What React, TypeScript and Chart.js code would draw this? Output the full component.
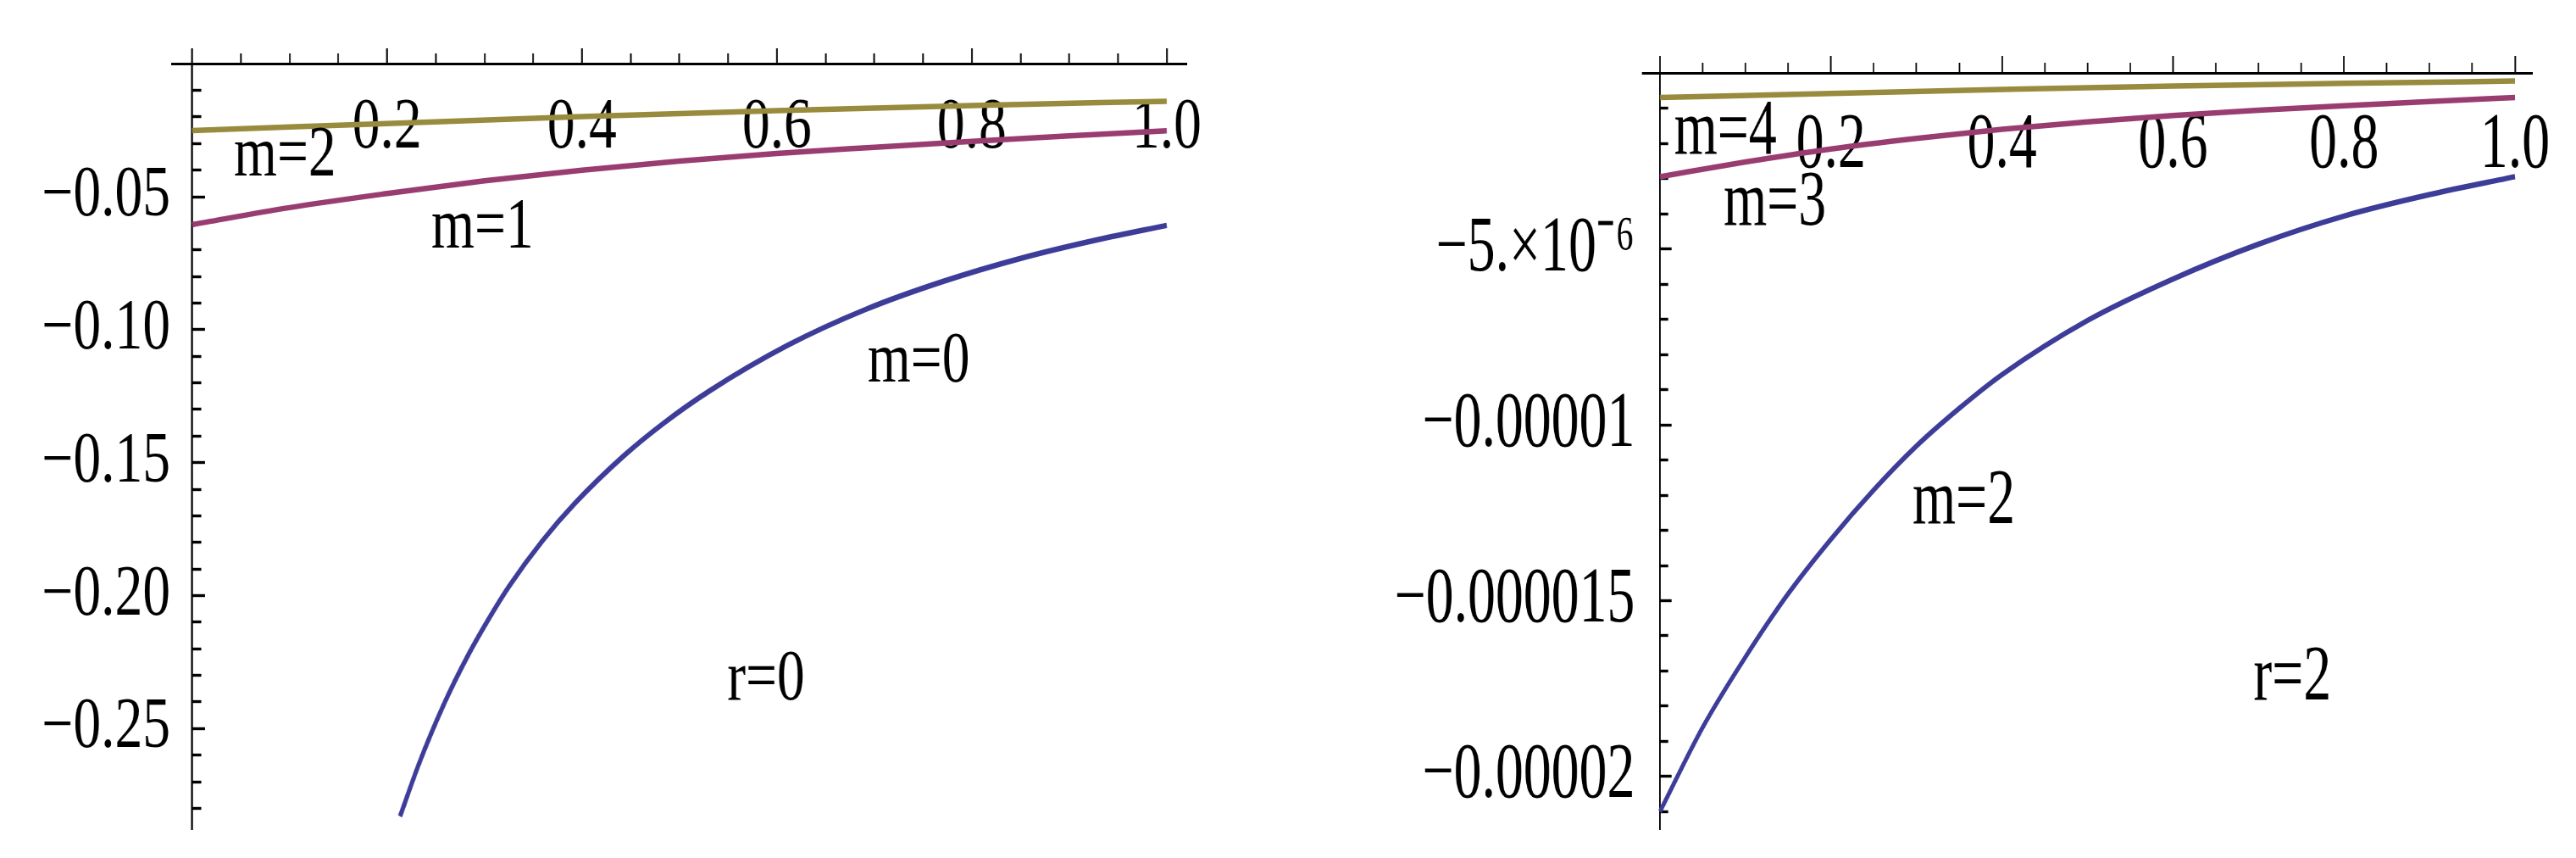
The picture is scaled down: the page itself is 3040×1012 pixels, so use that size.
import React, { useEffect, useRef } from 'react';
import { Chart, registerables } from 'chart.js';

Chart.register(...registerables);

// ---------------- data: left panel (r = 0) ----------------
const L_M0_X = [0.2133, 0.233, 0.258, 0.283, 0.309, 0.325, 0.359, 0.393, 0.443, 0.484, 0.531, 0.611, 0.691, 0.771, 0.851, 0.93, 1.0];
const L_M0_Y = [-0.283, -0.263, -0.2411, -0.2225, -0.2059, -0.1966, -0.1796, -0.1652, -0.1474, -0.1351, -0.123, -0.1059, -0.0924, -0.0818, -0.0731, -0.0661, -0.0608];
const L_M1_X = [0, 0.1, 0.2, 0.3, 0.4, 0.5, 0.6, 0.7, 0.8, 0.9, 1.0];
const L_M1_Y = [-0.0605, -0.0541, -0.0488, -0.044, -0.04, -0.0366, -0.0337, -0.0314, -0.0292, -0.0271, -0.0252];
const L_M2_X = [0, 0.2, 0.4, 0.6, 0.8, 1.0];
const L_M2_Y = [-0.0251, -0.0225, -0.0199, -0.0176, -0.0157, -0.0141];

const L_X_TICKS = [0, 0.2, 0.4, 0.6, 0.8, 1.0];
const L_X_LABELS = ['', '0.2', '0.4', '0.6', '0.8', '1.0'];
const L_Y_TICKS = [-0.05, -0.1, -0.15, -0.2, -0.25];
const L_Y_LABELS = ['\u22120.05', '\u22120.10', '\u22120.15', '\u22120.20', '\u22120.25'];
const L_NOTES = [
  { text: 'm=2', x: 0.0428, y: -0.042 },
  { text: 'm=1', x: 0.2454, y: -0.0691 },
  { text: 'm=0', x: 0.693, y: -0.1195 },
  { text: 'r=0', x: 0.549, y: -0.2391 },
];

// ---------------- data: right panel (r = 2) ----------------
const R_M2_X = [0, 0.05, 0.1, 0.15, 0.2, 0.25, 0.3, 0.35, 0.4, 0.5, 0.6, 0.7, 0.8, 0.9, 1.0];
const R_M2_Y = [-21.0e-6, -18.6e-6, -16.6e-6, -14.8e-6, -13.25e-6, -11.85e-6, -10.6e-6, -9.53e-6, -8.57e-6, -7.03e-6, -5.85e-6, -4.86e-6, -4.06e-6, -3.45e-6, -2.94e-6];
const R_M3_X = [0, 0.1, 0.2, 0.3, 0.4, 0.5, 0.6, 0.7, 0.8, 0.9, 1.0];
const R_M3_Y = [-2.94e-6, -2.52e-6, -2.15e-6, -1.85e-6, -1.59e-6, -1.38e-6, -1.2e-6, -1.05e-6, -0.92e-6, -0.8e-6, -0.69e-6];
const R_M4_X = [0, 0.2, 0.4, 0.6, 0.8, 1.0];
const R_M4_Y = [-0.69e-6, -0.57e-6, -0.46e-6, -0.36e-6, -0.285e-6, -0.22e-6];

const R_X_TICKS = [0, 0.2, 0.4, 0.6, 0.8, 1.0];
const R_X_LABELS = ['', '0.2', '0.4', '0.6', '0.8', '1.0'];
const R_Y_TICKS = [-5e-6, -1e-5, -1.5e-5, -2e-5];
const R_Y_LABELS = ['\u22125.\u00d710\u207b\u2076', '\u22120.00001', '\u22120.000015', '\u22120.00002'];
const R_NOTES = [
  { text: 'm=4', x: 0.0164, y: -2.28e-6 },
  { text: 'm=3', x: 0.0743, y: -4.3e-6 },
  { text: 'm=2', x: 0.2953, y: -1.279e-5 },
  { text: 'r=2', x: 0.694, y: -1.781e-5 },
];

const BLUE = 'rgb(61,61,153)';
const PURPLE = 'rgb(153,61,113)';
const GOLD = 'rgb(153,139,61)';

const H = 1012;

type Series = { xs: number[]; ys: number[]; color: string };
type PanelCfg = {
  left: number; sx: number; canvasW: number;
  plotLeft: number; plotRight: number; plotTop: number; plotBottom: number;
  xMin: number; xMax: number; yMin: number; yMax: number;
  xTicks: number[]; xLabels: string[]; xMinorStep: number;
  yTicks: number[]; yLabels: string[]; yMinorStep: number; yMinorCount: number;
  font: number; xLabelPad: number; yLabelPad: number;
  majorTickX: number; minorTickX: number;
  series: Series[]; notes: { text: string; x: number; y: number }[];
};

const LEFT: PanelCfg = {
  left: 0, sx: 0.78, canvasW: 2000,
  plotLeft: 203.3, plotRight: 1400.3, plotTop: 75.2, plotBottom: 978,
  xMin: -0.0204, xMax: 1.0204, yMin: -0.28784, yMax: 0,
  xTicks: L_X_TICKS, xLabels: L_X_LABELS, xMinorStep: 0.05,
  yTicks: L_Y_TICKS, yLabels: L_Y_LABELS, yMinorStep: 0.01, yMinorCount: 28,
  font: 84, xLabelPad: 55, yLabelPad: 3,
  majorTickX: 20, minorTickX: 12,
  series: [
    { xs: L_M0_X, ys: L_M0_Y, color: BLUE },
    { xs: L_M1_X, ys: L_M1_Y, color: PURPLE },
    { xs: L_M2_X, ys: L_M2_Y, color: GOLD },
  ],
  notes: L_NOTES,
};

const RIGHT: PanelCfg = {
  left: 1540, sx: 0.7, canvasW: 2143,
  plotLeft: 1938.4, plotRight: 2988.6, plotTop: 86.5, plotBottom: 978,
  xMin: -0.0204, xMax: 1.0204, yMin: -2.15e-5, yMax: 0,
  xTicks: R_X_TICKS, xLabels: R_X_LABELS, xMinorStep: 0.05,
  yTicks: R_Y_TICKS, yLabels: R_Y_LABELS, yMinorStep: 1e-6, yMinorCount: 21,
  font: 94, xLabelPad: 61, yLabelPad: 13,
  majorTickX: 22, minorTickX: 13,
  series: [
    { xs: R_M2_X, ys: R_M2_Y, color: BLUE },
    { xs: R_M3_X, ys: R_M3_Y, color: PURPLE },
    { xs: R_M4_X, ys: R_M4_Y, color: GOLD },
  ],
  notes: R_NOTES,
};

const notePlugin = {
  id: 'notes',
  afterDatasetsDraw(chart: any, _args: any, opts: any) {
    const { ctx, scales } = chart;
    const xs = scales.x;
    const ys = scales.y;
    ctx.save();
    ctx.font = `${opts.size}px "Liberation Serif"`;
    ctx.fillStyle = '#000';
    ctx.textAlign = 'left';
    ctx.textBaseline = 'alphabetic';
    (opts.items || []).forEach((it: any) => {
      ctx.fillText(it.text, xs.getPixelForValue(it.x), ys.getPixelForValue(it.y));
    });
    ctx.restore();
  },
};

function minorTicks(step: number, count: number, sign: number, every: number) {
  const out: { value: number }[] = [];
  for (let i = 1; i <= count; i++) {
    if (i % every === 0) continue;
    out.push({ value: sign * i * step });
  }
  return out;
}

function buildConfig(p: PanelCfg): any {
  const toC = (fx: number) => (fx - p.left) / p.sx;
  const padRight = p.canvasW - toC(p.plotRight);
  const labelAxisW = toC(p.plotLeft);
  const tickFont = { family: 'Liberation Serif', size: p.font, lineHeight: 1 };
  const xMinorCount = Math.round(1 / p.xMinorStep);

  return {
    type: 'line',
    data: {
      datasets: p.series.map((s) => ({
        data: s.xs.map((x, i) => ({ x, y: s.ys[i] })),
        borderColor: s.color,
        borderWidth: 6.5,
        pointRadius: 0,
        fill: false,
        cubicInterpolationMode: 'monotone',
        xAxisID: 'x',
        yAxisID: 'y',
      })),
    },
    options: {
      animation: false,
      responsive: false,
      devicePixelRatio: 1,
      events: [],
      layout: { padding: { left: 0, right: padRight, top: p.plotTop, bottom: H - p.plotBottom } },
      plugins: {
        legend: { display: false },
        tooltip: { enabled: false },
        notes: { items: p.notes, size: p.font },
      },
      scales: {
        x: {
          type: 'linear', display: true, position: { y: 0 },
          min: p.xMin, max: p.xMax,
          afterBuildTicks: (a: any) => { a.ticks = p.xTicks.map((v) => ({ value: v })); },
          afterFit: (a: any) => { a.paddingLeft = 0; a.paddingRight = 0; },
          ticks: {
            display: true, autoSkip: false, maxRotation: 0, minRotation: 0,
            padding: p.xLabelPad, color: '#000', font: tickFont,
            callback: (_v: any, i: number) => p.xLabels[i],
          },
          grid: { display: true, drawOnChartArea: false, drawTicks: true, tickLength: -p.majorTickX, tickWidth: 2.6, tickColor: '#000' },
          border: { display: true, color: '#000', width: 3 },
        },
        xMinor: {
          type: 'linear', display: true, position: { y: 0 },
          min: p.xMin, max: p.xMax,
          afterBuildTicks: (a: any) => { a.ticks = minorTicks(p.xMinorStep, xMinorCount, 1, 4); },
          ticks: { display: false },
          grid: { display: true, drawOnChartArea: false, drawTicks: true, tickLength: -p.minorTickX, tickWidth: 2.4, tickColor: '#000' },
          border: { display: false },
        },
        y: {
          type: 'linear', display: true, position: { x: 0 },
          min: p.yMin, max: p.yMax,
          afterBuildTicks: (a: any) => { a.ticks = p.yTicks.map((v) => ({ value: v })); },
          ticks: { display: false },
          grid: { display: true, drawOnChartArea: false, drawTicks: true, tickLength: -21, tickWidth: 3.4, tickColor: '#000' },
          border: { display: true, color: '#000', width: 2.8 },
        },
        yMinor: {
          type: 'linear', display: true, position: { x: 0 },
          min: p.yMin, max: p.yMax,
          afterBuildTicks: (a: any) => { a.ticks = minorTicks(p.yMinorStep, p.yMinorCount, -1, 5); },
          ticks: { display: false },
          grid: { display: true, drawOnChartArea: false, drawTicks: true, tickLength: -13.5, tickWidth: 3.4, tickColor: '#000' },
          border: { display: false },
        },
        yLabels: {
          type: 'linear', display: true, position: 'left',
          min: p.yMin, max: p.yMax,
          afterBuildTicks: (a: any) => { a.ticks = p.yTicks.map((v) => ({ value: v })); },
          afterFit: (a: any) => { a.width = labelAxisW; a.paddingTop = 0; a.paddingBottom = 0; },
          ticks: {
            display: true, autoSkip: false, padding: p.yLabelPad, color: '#000', font: tickFont,
            callback: (_v: any, i: number) => p.yLabels[i],
          },
          grid: { display: false, drawTicks: false, drawOnChartArea: false },
          border: { display: false },
        },
      },
    },
    plugins: [notePlugin],
  };
}

function Panel({ p }: { p: PanelCfg }) {
  const ref = useRef<HTMLCanvasElement>(null);
  useEffect(() => {
    if (!ref.current) return;
    const chart = new Chart(ref.current, buildConfig(p));
    return () => chart.destroy();
  }, [p]);
  return (
    <div style={{ position: 'absolute', left: p.left, top: 0, width: p.canvasW * p.sx, height: H }}>
      <canvas
        ref={ref}
        width={p.canvasW}
        height={H}
        style={{ transform: `scaleX(${p.sx})`, transformOrigin: '0 0', display: 'block' }}
      />
    </div>
  );
}

export default function App() {
  return (
    <div style={{ position: 'absolute', left: 0, top: 0, width: 3040, height: H, background: '#fff', overflow: 'hidden' }}>
      <Panel p={LEFT} />
      <Panel p={RIGHT} />
    </div>
  );
}
